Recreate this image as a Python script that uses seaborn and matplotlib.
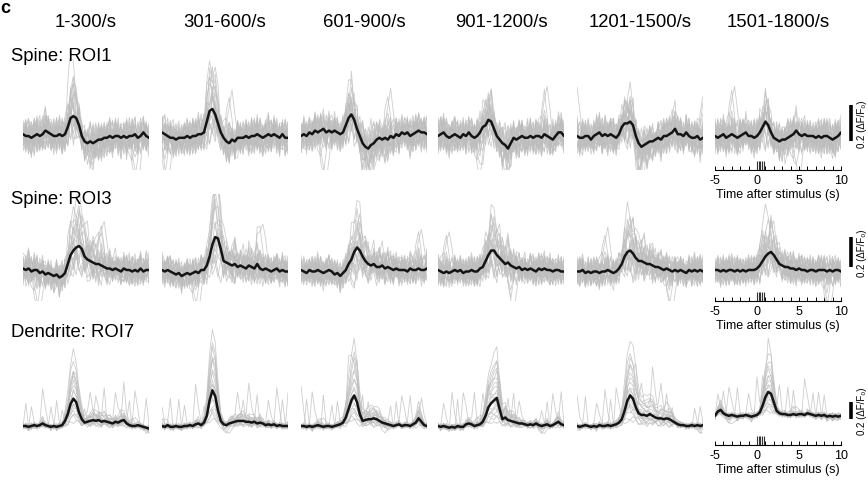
import numpy as np
import pandas as pd
import matplotlib
matplotlib.use("Agg")
import matplotlib.pyplot as plt
import seaborn as sns

sns.set_style("white")
plt.rcParams["font.family"] = ["Liberation Sans", "DejaVu Sans"]
plt.rcParams["axes.unicode_minus"] = False
plt.rcParams["text.color"] = "black"
plt.rcParams["axes.labelcolor"] = "black"
plt.rcParams["xtick.color"] = "black"

# ---------------- data ----------------
COLUMNS = ["1-300/s", "301-600/s", "601-900/s", "901-1200/s", "1201-1500/s", "1501-1800/s"]
ROWS = ["Spine: ROI1", "Spine: ROI3", "Dendrite: ROI7"]
TIME_START, TIME_END, N_SAMPLES = -5, 10, 46
XTICKS = [-5, 0, 5, 10]
STIM_TIMES = [0.0, 0.2, 0.4, 0.6, 0.8]
SCALE_BAR = 0.2
XLABEL = "Time after stimulus (s)"
SCALE_LABEL = "0.2 (\u0394F/F\u2080)"

# mean traces (units of 0.01 dF/F), one list per time window
MEAN_ROI1 = [
    [1,0,0,-1,0,1,0,1,3,2,1,0,0,1,0, 1,5,10,11,10,6,0,-3,-4,-3,-4,-3,-2,-2,-1,-1,0,-1,0,0,-1,0,-1,0,0,1,-1,0,2,0,-1],
    [2,1,0,-1,-1,-2,-1,-1,-1,0,-1,0,0,1,1, 2,8,14,15,12,7,2,-1,-3,-4,-2,-3,-1,-1,-1,0,-1,0,0,1,0,-1,0,1,0,1,0,-1,1,-1,-1],
    [0,1,0,2,1,3,2,3,4,2,3,2,3,2,1, 2,6,10,12,9,4,0,-4,-6,-7,-5,-4,-2,-1,-2,-1,-2,0,-1,1,0,2,1,2,0,1,2,3,2,2,1],
    [0,1,2,0,-1,0,1,0,-1,1,0,2,0,-1,0, 2,5,6,9,8,4,0,-2,-4,-5,-7,-4,-1,-2,-1,0,-1,-1,0,-1,0,0,-1,1,0,-1,-2,0,2,2,0],
    [0,-1,-1,0,0,-2,0,1,2,0,1,0,1,0,-1, 1,5,7,7,8,6,0,-4,-6,-5,-4,-3,-3,-2,-1,-2,0,0,1,2,4,1,1,0,2,0,-1,-1,0,-2,-1],
    [0,-1,0,1,-1,0,1,0,-1,0,1,2,0,0,-1, 0,2,5,8,6,2,-1,-2,-3,-2,-2,-1,0,1,3,1,0,1,0,0,0,-1,0,-1,0,0,-1,-2,-1,0,2],
]
MEAN_ROI3 = [
    [1,0,1,-1,0,0,-2,-1,-3,-2,-3,-4,-3,-5,-4, -2,4,10,13,15,16,14,9,7,6,5,4,4,3,2,1,1,0,1,0,-1,1,0,0,-1,0,-1,1,-1,0,0],
    [0,-1,0,-1,-2,-3,-2,-4,-3,-2,-3,-2,-1,-2,0, 0,3,9,17,22,21,14,6,5,4,3,4,2,3,2,1,3,2,1,4,1,0,1,0,-1,0,1,-1,0,-1,-1],
    [0,-1,-2,0,-1,-1,0,-1,-2,-1,0,-1,-3,-2,-4, -2,0,4,7,12,15,13,9,6,4,3,4,2,2,3,1,2,1,0,1,0,0,0,-1,1,0,0,1,0,0,1],
    [0,-1,-2,-1,-2,-1,0,-1,0,-2,-1,-1,0,-1,-1, 1,2,6,10,13,13,10,8,6,4,5,3,2,1,2,0,1,0,1,0,-1,1,0,1,0,0,-1,0,0,-1,-1],
    [-1,-1,0,-2,-1,-2,-1,-1,-2,-1,-1,0,-1,-2,-1, 1,4,9,12,13,11,8,6,6,5,4,4,3,2,2,1,0,1,0,-1,0,-1,0,-1,-2,0,-1,0,-1,0,-1],
    [0,0,-1,0,-1,0,0,-1,0,-1,0,-1,0,0,0, 1,3,6,9,11,12,10,7,4,3,2,2,1,1,0,1,0,0,-1,0,0,-1,0,0,0,-1,0,-1,0,0,-1],
]
MEAN_ROI7 = [
    [0,0,-1,0,1,0,1,3,1,0,-1,0,-1,0,1, 6,14,26,32,28,16,8,4,5,6,7,6,7,5,6,5,4,3,5,4,6,7,3,1,0,0,1,0,-1,-2,-3],
    [0,-1,1,-1,-1,0,-1,-1,0,0,1,0,2,3,1, 4,12,30,42,35,18,6,2,1,3,4,5,6,6,6,5,5,4,5,3,4,3,1,2,1,2,0,1,0,0,0],
    [0,0,-1,0,-1,0,1,0,-1,0,0,-1,0,1,2, 4,10,20,30,36,28,14,6,7,8,8,9,8,6,4,3,2,1,0,1,2,0,1,1,0,2,4,9,5,1,0],
    [0,-1,0,-1,-2,-1,-2,0,-1,-1,2,3,2,0,1, 2,5,12,22,27,30,33,20,8,10,7,6,5,4,3,3,2,1,2,1,3,1,0,1,2,0,1,3,5,2,1],
    [0,-1,0,1,0,-1,0,-1,1,0,0,1,0,1,2, 4,8,18,30,36,32,22,15,13,13,12,14,12,10,9,9,8,9,8,6,4,2,1,1,0,0,1,0,1,0,1],
    [12,17,19,15,13,12,13,12,11,12,12,13,12,11,12, 13,16,24,34,40,38,28,18,15,14,14,13,13,14,13,14,14,13,15,14,13,12,13,12,13,11,12,11,12,11,12],
]
MEANS = [MEAN_ROI1, MEAN_ROI3, MEAN_ROI7]

# single-trial deviations (hand-read, arbitrary units)
NOISE = [
    [3,-5,8,2,-6,4,10,-3,-8,5, 1,-4,7,-2,-9,3,6,-5,2,9, -1,-7,4,-3,6,1,-8,5,-2,7, -6,3,8,-4,0,5,-7,2,9,-3, -5,6,1,-8,4,2],
    [-4,6,-2,-8,3,7,-5,1,9,-3, -7,4,2,-6,8,5,-4,-9,6,3, -2,8,-5,1,-7,4,9,-3,-6,2, 7,-1,-8,5,3,-4,6,-9,2,8, -2,-5,7,3,-6,1],
    [7,2,-6,5,-1,-9,4,8,-3,2, -7,6,1,-5,3,9,12,4,-6,2, 5,-3,-8,6,2,-4,7,-1,-9,4, 6,-5,2,8,-3,-6,1,7,-2,4, -8,3,9,-4,2,-5],
    [-2,-8,4,9,-5,1,6,-7,3,8, -1,-6,5,2,-4,7,3,-2,8,-5, -9,2,6,-3,1,9,-4,-7,3,5, -2,8,-6,1,7,-3,4,-8,6,2, -5,9,-1,-4,6,3],
    [5,-3,1,7,-9,2,-4,6,8,-5, 3,-1,-8,9,4,-2,15,22,10,-6, 2,7,-4,5,-8,3,1,-6,9,4, -3,-7,5,2,-9,6,3,-2,8,-5, 1,-4,7,2,-6,4],
    [-6,4,9,-2,-5,8,1,-7,3,6, -4,2,9,-8,5,1,6,12,4,-2, -6,3,8,-5,2,-1,6,-9,4,7, -3,1,-5,9,2,-6,4,8,-3,-7, 5,1,-2,6,-4,3],
    [2,9,-4,-1,6,-8,5,3,-6,7, 2,-9,4,8,-3,-5,-2,6,9,-4, 3,1,-7,8,5,-2,-6,4,1,-8, 6,9,-3,2,-5,7,-1,4,-6,3, 8,-2,5,-9,1,6],
    [-8,1,5,-6,9,3,-2,-5,7,1, -3,8,-6,4,2,-7,9,18,25,14, 1,-6,2,4,-3,8,-5,1,6,-2, -9,4,7,-6,3,1,-4,9,2,-5, 6,-3,-8,4,5,-2],
    [4,-7,2,6,1,-4,8,-2,-9,5, 7,-3,1,6,-5,2,-8,3,7,-1, 5,-6,9,2,-4,-7,3,6,-2,1, 8,-5,-3,7,4,-9,2,5,-1,6, -7,4,3,-6,8,-3],
    [1,6,-9,3,8,-2,-6,4,2,-8, 6,5,-3,-1,7,4,-5,9,3,-7, 8,2,-4,6,-1,-5,2,9,-6,3, 5,-8,1,4,-3,7,6,-2,-5,9, -4,2,6,-7,3,1],
]
TRIAL_GAIN = [0.3, 2.4, 0.7, 1.5, 2.8, 0.9, 1.8, 0.5, 2.0, 1.2,
              1.1, 0.6, 1.9, 0.4, 1.3, 2.2, 0.8, 1.6, 0.2, 1.0]
# sparse transients of dendritic single trials: (sample index, 0.01 dF/F)
SPIKES = [
    [(7, 45), (8, 20)],
    [(33, 30), (34, 10)],
    [(3, 25), (26, 35), (27, 15)],
    [(12, 30), (40, 40), (41, 20)],
    [(24, 25)],
    [(22, 20), (36, 45), (37, 15)],
    [(1, 30), (29, 35)],
    [(14, 20), (44, 35)],
    [(10, 25)],
    [(38, 30)],
]
NOISE_SCALE = [0.011, 0.011, 0.004]
SPIKE_ROWS = [False, False, True]

# ---------------- layout (pixels) ----------------
W, H = 868, 481
COL_LEFT = [23, 162, 301, 438, 577, 715]
COL_W = 126
ROW_TOP = [60, 195, 330]
ROW_BOT = [171, 302, 446]
ROW_BASE = [137, 271, 427]
ROW_PPU = [180, 150, 85]
BAR_LOW = [-0.03, 0.02, 0.08]
BAR_X_PX = 851
LABEL_X_PX = 862
N_TRIALS = 20

fig = plt.figure(figsize=(W / 100, H / 100), dpi=100)
T = np.linspace(TIME_START, TIME_END, N_SAMPLES)

for r in range(3):
    ylo = -(ROW_BOT[r] - ROW_BASE[r]) / ROW_PPU[r]
    yhi = (ROW_BASE[r] - ROW_TOP[r]) / ROW_PPU[r]
    for c in range(6):
        rect = [COL_LEFT[c] / W, 1 - ROW_BOT[r] / H, COL_W / W, (ROW_BOT[r] - ROW_TOP[r]) / H]
        ax = fig.add_axes(rect)
        ax.patch.set_alpha(0)
        mean = np.array(MEANS[r][c], dtype=float) * 0.01
        base = mean[:15].mean()
        frames = []
        for k in range(N_TRIALS):
            idx = (k + 3 * c + r) % len(NOISE)
            sign = 1 if k < 10 else -1
            shift = (c * 7 + r * 11 + (0 if k < 10 else 23)) % N_SAMPLES
            dev = sign * np.roll(np.array(NOISE[idx], dtype=float), shift) * NOISE_SCALE[r]
            v = base + (mean - base) * TRIAL_GAIN[(k + c) % N_TRIALS] + dev
            if SPIKE_ROWS[r] and k < 10:
                sp = np.zeros(N_SAMPLES)
                for (i, a) in SPIKES[(k + 2 * c) % len(SPIKES)]:
                    sp[i] = a * 0.01
                v = v + np.roll(sp, c * 5)
            frames.append(pd.DataFrame({"t": T, "v": v, "trial": k}))
        df = pd.concat(frames, ignore_index=True)
        sns.lineplot(data=df, x="t", y="v", units="trial", estimator=None,
                     color="#bdbdbd", lw=0.6, alpha=0.75, ax=ax, legend=False)
        sns.lineplot(x=T, y=mean, color="#141414", lw=1.8, ax=ax)
        ax.set_xlim(TIME_START, TIME_END)
        ax.set_ylim(ylo, yhi)
        ax.set_xlabel("")
        ax.set_ylabel("")
        ax.set_yticks([])
        for s in ["top", "right", "left", "bottom"]:
            ax.spines[s].set_visible(False)
        if r == 0:
            fig.text((COL_LEFT[c] + COL_W / 2) / W, 1 - 27 / H, COLUMNS[c],
                     ha="center", va="baseline", fontsize=13.3, color="black")
        if c == 5:
            ax.spines["bottom"].set_visible(True)
            ax.spines["bottom"].set_color("black")
            ax.spines["bottom"].set_linewidth(0.8)
            ax.set_xticks(XTICKS)
            ax.set_xticks(np.arange(TIME_START, TIME_END + 1, 1), minor=True)
            ax.tick_params(axis="x", which="both", direction="in", length=3, width=0.7,
                           bottom=True, labelsize=9, pad=3, colors="black")
            ax.set_xlabel(XLABEL, fontsize=9, labelpad=1, color="black")
            ax.vlines(STIM_TIMES, 0, 9 / (ROW_BOT[r] - ROW_TOP[r]),
                      transform=ax.get_xaxis_transform(), color="#333333", lw=0.8)
            bx = TIME_START + (BAR_X_PX - COL_LEFT[c]) / COL_W * (TIME_END - TIME_START)
            ax.plot([bx, bx], [BAR_LOW[r], BAR_LOW[r] + SCALE_BAR], color="black",
                    lw=2.6, clip_on=False, solid_capstyle="butt")
            lx = TIME_START + (LABEL_X_PX - COL_LEFT[c]) / COL_W * (TIME_END - TIME_START)
            ax.text(lx, BAR_LOW[r] + SCALE_BAR / 2, SCALE_LABEL, rotation=90,
                    ha="center", va="center", fontsize=7, clip_on=False, color="black")
        else:
            ax.set_xticks([])

ROW_LABEL_BASE = [61, 204, 337]
for r in range(3):
    fig.text(11 / W, 1 - ROW_LABEL_BASE[r] / H, ROWS[r], ha="left", va="baseline",
             fontsize=13.3, color="black")

fig.text(0.5 / W, 1 - 13 / H, "c", ha="left", va="baseline", fontsize=13,
         fontweight="bold", color="black")

fig.savefig("out.png", dpi=100)
